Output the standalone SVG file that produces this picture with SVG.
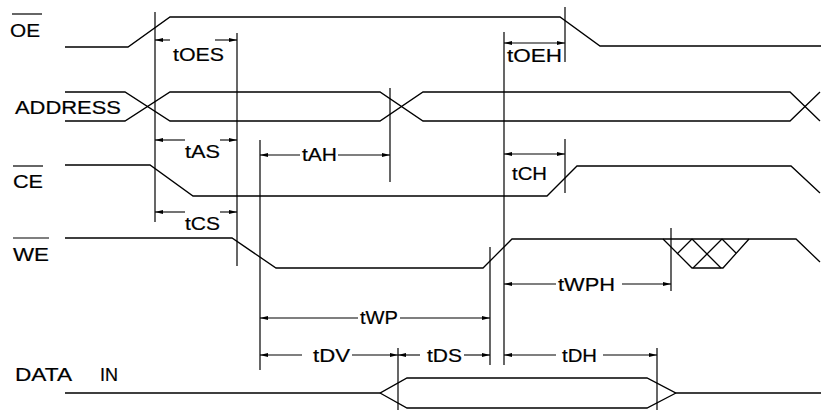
<svg xmlns="http://www.w3.org/2000/svg" width="821" height="411" viewBox="0 0 821 411">
<style>
.w{fill:none;stroke:#000;stroke-width:1.3;stroke-linejoin:miter}
.e{fill:none;stroke:#000;stroke-width:1.2}
.d{fill:none;stroke:#000;stroke-width:1.1}
.lbl{font-family:"Liberation Sans",Arial,sans-serif;font-size:19px;fill:#000;stroke:#000;stroke-width:0.2}
.t{font-family:"Liberation Sans",Arial,sans-serif;font-size:19px;fill:#000;stroke:#000;stroke-width:0.2}
</style>
<defs>
<marker id="arr" viewBox="0 0 8 4" refX="8" refY="2" markerWidth="8" markerHeight="4" markerUnits="userSpaceOnUse" orient="auto-start-reverse">
<path d="M0,0 L8,2 L0,4 z" fill="#000"/>
</marker>
</defs>
<rect width="821" height="411" fill="#fff"/>

<g id="sig-oe">
<text class="lbl" x="10" y="37" textLength="30" lengthAdjust="spacingAndGlyphs">OE</text>
<line class="e" x1="12" y1="14" x2="42" y2="14"/>
<polyline class="w" points="65,47 128,47 170,17 560,17 600,46 821,46"/>
</g>

<g id="sig-address">
<text class="lbl" x="15" y="114" textLength="106" lengthAdjust="spacingAndGlyphs">ADDRESS</text>
<polyline class="w" points="65,92 125,92 170,121 380,121 423,92 790,92 820,121"/>
<polyline class="w" points="65,121 125,121 170,92 380,92 423,121 790,121 820,92"/>
</g>

<g id="sig-ce">
<text class="lbl" x="13" y="188" textLength="30" lengthAdjust="spacingAndGlyphs">CE</text>
<line class="e" x1="13" y1="166" x2="43" y2="166"/>
<polyline class="w" points="65,165 150,165 193,196 547,196 577,166 791,166 820,193"/>
</g>

<g id="sig-we">
<text class="lbl" x="13" y="261" textLength="36" lengthAdjust="spacingAndGlyphs">WE</text>
<line class="e" x1="13" y1="238" x2="49" y2="238"/>
<polyline class="w" points="65,238 232,238 276,268 483,268 512,239 796,239 820,262"/>
<g id="we-hatch">
<polyline class="w" points="663,239 692,268 723,268 749,239"/>
<line class="w" x1="692" y1="239" x2="721" y2="268"/>
<line class="w" x1="722" y1="239" x2="693" y2="268"/>
<line class="w" x1="692" y1="239" x2="677" y2="254"/>
<line class="w" x1="722" y1="239" x2="736" y2="253"/>
</g>
</g>

<g id="sig-datain">
<text class="lbl" x="15" y="381" textLength="57" lengthAdjust="spacingAndGlyphs">DATA</text>
<text class="lbl" x="100" y="381" textLength="18" lengthAdjust="spacingAndGlyphs">IN</text>
<polyline class="w" points="65,393 380,393 407,378 647,378 676,393 821,393"/>
<polyline class="w" points="380,393 407,408 647,408 676,393"/>
</g>

<g id="connectors">
<line class="e" x1="155" y1="12" x2="155" y2="222"/>
<line class="e" x1="237" y1="33" x2="237" y2="266"/>
<line class="e" x1="260" y1="140" x2="260" y2="370"/>
<line class="e" x1="390" y1="88" x2="390" y2="182"/>
<line class="e" x1="504" y1="32" x2="504" y2="365"/>
<line class="e" x1="565" y1="7" x2="565" y2="62"/>
<line class="e" x1="565" y1="139" x2="565" y2="193"/>
<line class="e" x1="490" y1="247" x2="490" y2="365"/>
<line class="e" x1="398" y1="348" x2="398" y2="410"/>
<line class="e" x1="657" y1="348" x2="657" y2="410"/>
<line class="e" x1="671" y1="228" x2="671" y2="291"/>

<line class="d" x1="155" y1="40" x2="170" y2="40" marker-start="url(#arr)"/>
<line class="d" x1="215" y1="40" x2="237" y2="40" marker-end="url(#arr)"/>
<text class="t" x="173" y="61" textLength="51" lengthAdjust="spacingAndGlyphs">tOES</text>

<line class="d" x1="504" y1="43" x2="565" y2="43" marker-start="url(#arr)" marker-end="url(#arr)"/>
<text class="t" x="507" y="62" textLength="55" lengthAdjust="spacingAndGlyphs">tOEH</text>

<line class="d" x1="155" y1="140" x2="185" y2="140" marker-start="url(#arr)"/>
<line class="d" x1="220" y1="140" x2="237" y2="140" marker-end="url(#arr)"/>
<text class="t" x="185" y="158" textLength="35" lengthAdjust="spacingAndGlyphs">tAS</text>

<line class="d" x1="260" y1="155" x2="300" y2="155" marker-start="url(#arr)"/>
<line class="d" x1="338" y1="155" x2="390" y2="155" marker-end="url(#arr)"/>
<text class="t" x="302" y="161" textLength="35" lengthAdjust="spacingAndGlyphs">tAH</text>

<line class="d" x1="504" y1="154" x2="565" y2="154" marker-start="url(#arr)" marker-end="url(#arr)"/>
<text class="t" x="512" y="180" textLength="35" lengthAdjust="spacingAndGlyphs">tCH</text>

<line class="d" x1="155" y1="212" x2="185" y2="212" marker-start="url(#arr)"/>
<line class="d" x1="220" y1="212" x2="237" y2="212" marker-end="url(#arr)"/>
<text class="t" x="185" y="230" textLength="35" lengthAdjust="spacingAndGlyphs">tCS</text>

<line class="d" x1="504" y1="284" x2="556" y2="284" marker-start="url(#arr)"/>
<line class="d" x1="622" y1="284" x2="671" y2="284" marker-end="url(#arr)"/>
<text class="t" x="558" y="291" textLength="57" lengthAdjust="spacingAndGlyphs">tWPH</text>

<line class="d" x1="260" y1="318" x2="358" y2="318" marker-start="url(#arr)"/>
<line class="d" x1="400" y1="318" x2="490" y2="318" marker-end="url(#arr)"/>
<text class="t" x="360" y="324" textLength="38" lengthAdjust="spacingAndGlyphs">tWP</text>

<line class="d" x1="260" y1="355" x2="302" y2="355" marker-start="url(#arr)"/>
<line class="d" x1="352" y1="355" x2="398" y2="355" marker-end="url(#arr)"/>
<text class="t" x="313" y="362" textLength="37" lengthAdjust="spacingAndGlyphs">tDV</text>

<line class="d" x1="398" y1="355" x2="420" y2="355" marker-start="url(#arr)"/>
<line class="d" x1="464" y1="355" x2="490" y2="355" marker-end="url(#arr)"/>
<text class="t" x="427" y="362" textLength="35" lengthAdjust="spacingAndGlyphs">tDS</text>

<line class="d" x1="504" y1="355" x2="556" y2="355" marker-start="url(#arr)"/>
<line class="d" x1="603" y1="355" x2="657" y2="355" marker-end="url(#arr)"/>
<text class="t" x="562" y="362" textLength="35" lengthAdjust="spacingAndGlyphs">tDH</text>
</g>
</svg>
